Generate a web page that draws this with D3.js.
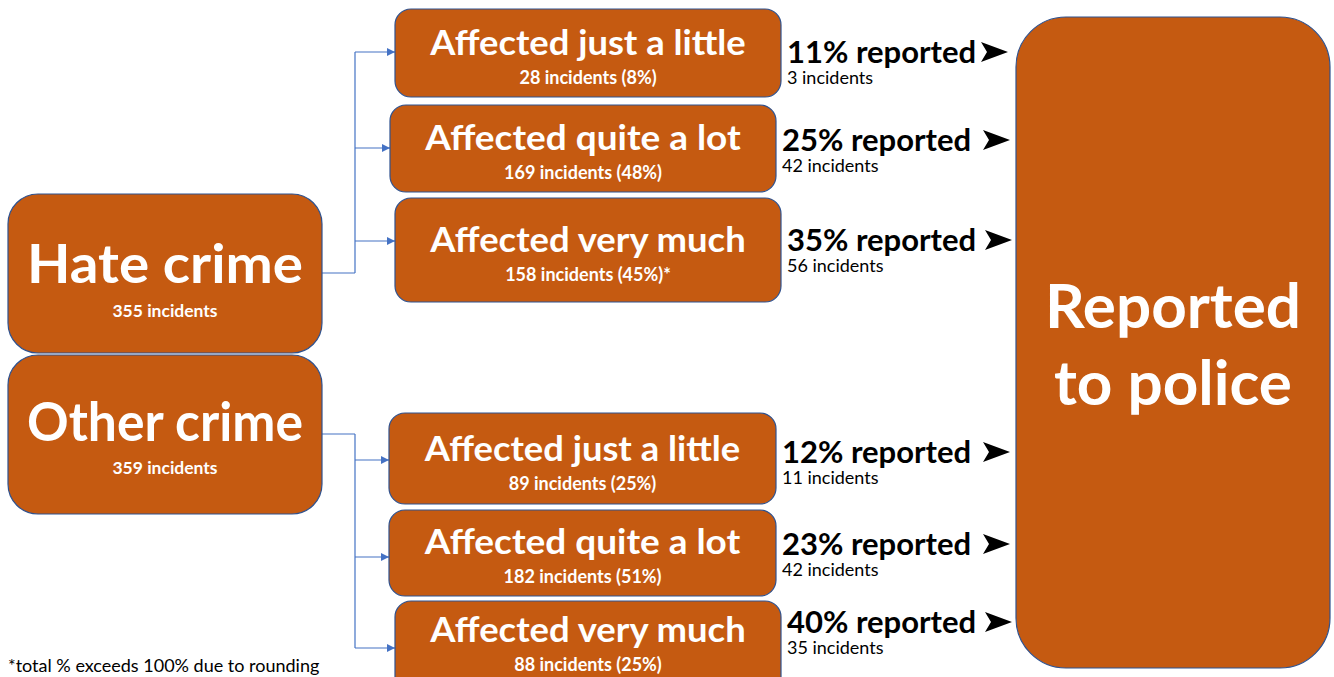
<!DOCTYPE html>
<html>
<head>
<meta charset="utf-8">
<script src="https://cdn.jsdelivr.net/npm/d3@7"></script>
<style>
  body { margin: 0; background: #fff; }
  text { font-family: Lato, "Open Sans", sans-serif; }
</style>
</head>
<body>
<div id="chart"></div>
<script>
// data
const groups = ["Hate crime", "Other crime"];
const groupTotals = [355, 359];
const levels = ["Affected just a little", "Affected quite a lot", "Affected very much"];
const levelCounts = [[28, 169, 158], [89, 182, 88]];
const levelShares = [[8, 48, 45], [25, 51, 25]];
const shareNotes = [["", "", "*"], ["", "", ""]];
const reportedPct = [[11, 25, 35], [12, 23, 40]];
const reportedCounts = [[3, 42, 56], [11, 42, 35]];
const targetLines = ["Reported", "to police"];
const footnote = "*total % exceeds 100% due to rounding";

// layout (boxes as placed in the original slide)
const groupBox = [
  {x: 8, y: 194, w: 314, h: 159},
  {x: 8, y: 355, w: 314, h: 159}
];
const levelBox = [
  [{x: 395, y: 9, w: 386, h: 88}, {x: 390, y: 105, w: 386, h: 87}, {x: 395, y: 198, w: 386, h: 104}],
  [{x: 389, y: 413, w: 387, h: 91}, {x: 389, y: 510, w: 387, h: 86}, {x: 395, y: 601, w: 386, h: 92}]
];
const titleOff = [[46, 45, 54], [48, 44, 41]];
const reportRowY = [[63, 151, 251], [463, 555, 633]];
const arrowX = [[981, 983, 985], [983, 983, 985]];
const targetBox = {x: 1016, y: 17, w: 314, h: 651};

const fill = "#C55A11", stroke = "#2F528F", link = "#4472C4";

var svg = d3.select("#chart").append("svg")
    .attr("width", 1334)
    .attr("height", 677);

svg.append("defs").append("marker")
    .attr("id", "tip")
    .attr("viewBox", "0 0 10 10")
    .attr("refX", 10).attr("refY", 5)
    .attr("markerWidth", 8).attr("markerHeight", 8)
    .attr("markerUnits", "userSpaceOnUse")
    .attr("orient", "auto")
  .append("path")
    .attr("d", "M0,0 L10,5 L0,10 Z")
    .attr("fill", link);

// centred text; if fitW is given the text is squeezed/stretched to that width
function label(parent, cx, y, str, size, weight, color, fitW) {
  var g = parent.append("g");
  var t = g.append("text")
    .attr("text-anchor", "middle")
    .attr("font-size", size)
    .attr("font-weight", weight)
    .attr("fill", color)
    .text(str);
  var k = 1;
  if (fitW) k = fitW / t.node().getComputedTextLength();
  g.attr("transform", "translate(" + cx + "," + y + ") scale(" + k + ",1)");
}

function box(b, r) {
  svg.append("rect")
    .attr("x", b.x).attr("y", b.y)
    .attr("width", b.w).attr("height", b.h)
    .attr("rx", r).attr("ry", r)
    .attr("fill", fill)
    .attr("stroke", stroke)
    .attr("stroke-width", 1.2);
}

// connectors first so boxes sit on top
var line = d3.line();
groups.forEach(function(gname, gi) {
  var gb = groupBox[gi];
  var sy = gb.y + 79;
  var trunkX = 355;
  var ys = levelBox[gi].map(function(b) { return b.y + (gi == 0 ? 43 : 47); });
  svg.append("path")
    .attr("d", line([[gb.x + gb.w, sy], [trunkX, sy]]))
    .attr("fill", "none").attr("stroke", link).attr("stroke-width", 1.2);
  svg.append("path")
    .attr("d", line([[trunkX, d3.min(ys.concat([sy]))], [trunkX, d3.max(ys.concat([sy]))]]))
    .attr("fill", "none").attr("stroke", link).attr("stroke-width", 1.2);
  levelBox[gi].forEach(function(b, i) {
    svg.append("path")
      .attr("d", line([[trunkX, ys[i]], [b.x, ys[i]]]))
      .attr("fill", "none").attr("stroke", link).attr("stroke-width", 1.2)
      .attr("marker-end", "url(#tip)");
  });
});

// group boxes
groups.forEach(function(gname, gi) {
  var b = groupBox[gi];
  box(b, 30);
  var cx = b.x + b.w / 2;
  label(svg, cx, b.y + (gi == 0 ? 89 : 86), gname, 54, 700, "#fff", 276);
  label(svg, cx, b.y + (gi == 0 ? 123 : 119), groupTotals[gi] + " incidents", 17.5, 700, "#fff");
});

// level boxes
groups.forEach(function(gname, gi) {
  levels.forEach(function(lv, i) {
    var b = levelBox[gi][i];
    box(b, 16);
    var cx = b.x + b.w / 2;
    var ty = b.y + titleOff[gi][i];
    label(svg, cx, ty, lv, 35, 700, "#fff", 1.04 * 286 * 35 / 33);
    label(svg, cx, ty + 29, levelCounts[gi][i] + " incidents (" + levelShares[gi][i] + "%)" + shareNotes[gi][i], 18, 700, "#fff");
  });
});

// reported labels + black arrows
groups.forEach(function(gname, gi) {
  levels.forEach(function(lv, i) {
    var b = levelBox[gi][i];
    var x = b.x + b.w + 6;
    var y = reportRowY[gi][i];
    svg.append("text")
      .attr("x", x).attr("y", y)
      .attr("font-size", 31).attr("font-weight", 700).attr("fill", "#000")
      .text(reportedPct[gi][i] + "% reported");
    svg.append("text")
      .attr("x", x).attr("y", y + 21)
      .attr("font-size", 18).attr("fill", "#000")
      .text(reportedCounts[gi][i] + " incidents");
    svg.append("path")
      .attr("transform", "translate(" + arrowX[gi][i] + "," + (y - 11) + ")")
      .attr("d", "M0,-10 L27,0 L0,10 L6,0 Z")
      .attr("fill", "#000");
  });
});

// target box
box(targetBox, 50);
targetLines.forEach(function(t, i) {
  label(svg, targetBox.x + targetBox.w / 2, 328 + i * 77, t, 62, 700, "#fff");
});

svg.append("text")
  .attr("x", 8).attr("y", 672)
  .attr("font-size", 18).attr("fill", "#000")
  .text(footnote);
</script>
</body>
</html>
